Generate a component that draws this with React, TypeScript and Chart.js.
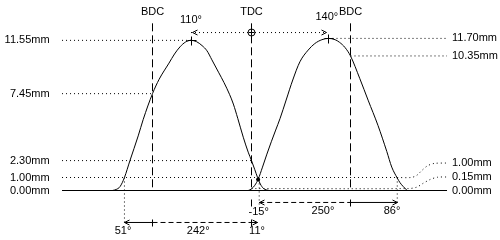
import React, { useEffect, useRef } from "react";
import { Chart, registerables } from "chart.js";

Chart.register(...registerables);

// ---- data (crank degrees relative to TDC, lift in mm) ----
const exhaustDeg = [-253, -246, -239, -231, -221, -206, -197, -180, -168, -150, -140, -130, -120, -110, -100, -90, -81, -72, -60, -50, -40, -33, -25, -15, -6, 0, 6, 11, 16, 22, 32];
const exhaustLift = [0, 0.08, 0.3, 1.0, 2.3, 4.2, 5.45, 7.45, 8.55, 9.8, 10.5, 11.05, 11.42, 11.55, 11.45, 11.15, 10.75, 10.05, 9.1, 8.3, 7.4, 6.65, 5.55, 4.1, 2.95, 2.3, 1.6, 1.0, 0.5, 0.15, 0];

const intakeDeg = [-6, 0, 6, 12, 20, 28, 36, 44, 52, 63, 75, 88, 103, 115, 128, 140, 152, 160, 170, 180, 197, 212, 230, 246, 255, 265, 270, 276, 283];
const intakeLift = [0, 0.12, 0.4, 0.85, 1.8, 2.8, 3.75, 4.65, 5.55, 6.96, 8.5, 9.9, 10.8, 11.3, 11.6, 11.7, 11.6, 11.4, 11.0, 10.35, 8.6, 6.95, 5.0, 3.0, 1.8, 0.96, 0.6, 0.3, 0];

const deadCentreNames = ["BDC", "TDC", "BDC"];
const deadCentreDeg = [-180, 0, 180];

const leftLevels = [11.55, 7.45, 2.3, 1.0, 0.0];
const leftLevelEndDeg = [-110, -180, 0, 265, 0];
const rightLevels = [11.7, 10.35, 1.0, 0.15, 0.0];

const exhaustPeakDeg = -110; // 110° BTDC
const intakePeakDeg = 140; // 140° ATDC
const exhaustMax = 11.55;
const intakeMax = 11.7;

const exhaustOpenDeg = -231; // 51° BBDC
const exhaustCloseDeg = 11; // 11° ATDC
const intakeOpenDeg = 14; // -15° BTDC
const intakeCloseDeg = 265; // 86° ABDC
const checkLift = 1.0;
const crossLift = 0.85;

const timingTexts = ["51°", "242°", "11°", "-15°", "250°", "86°"];
const peakTexts = ["110°", "140°"];

// ---- layout ----
const PX_PER_DEG = 0.55;
const TDC_PX = 251.5;
const PX_PER_MM = 13;
const ZERO_PX = 190.5;
const W = 500;
const H = 240;
const xMin = -TDC_PX / PX_PER_DEG;
const xMax = (W - TDC_PX) / PX_PER_DEG;
const yMax = ZERO_PX / PX_PER_MM;
const yMin = -(H - ZERO_PX) / PX_PER_MM;

const LEFT_START = -344.5;
const RIGHT_END = 355.5;
const ARROW_Y = 12.15;
const ROW_A = -0.92;
const ROW_B = -2.46;
const DC_TOP = 12.86;

const DOT = [1, 3];
const DASH_V = [8, 4];
const DASH_H = [5, 3];

type P = { x: number; y: number };
const pts = (xs: number[], ys: number[]): P[] => xs.map((x, i) => ({ x, y: ys[i] }));
const seg = (data: P[], dash: number[] = [], tension = 0, mono = false) => ({
  data,
  showLine: true,
  borderColor: "#000",
  borderWidth: 1,
  borderDash: dash,
  pointRadius: 0,
  pointHoverRadius: 0,
  tension,
  cubicInterpolationMode: mono ? "monotone" : "default",
  fill: false,
});

function buildDatasets() {
  const ds: any[] = [];
  ds.push(seg(pts(exhaustDeg, exhaustLift), [], 0.4, true));
  ds.push(seg(pts(intakeDeg, intakeLift), [], 0.4, true));
  ds.push(seg([{ x: LEFT_START, y: 0 }, { x: RIGHT_END, y: 0 }]));
  deadCentreDeg.forEach((d) => ds.push(seg([{ x: d, y: DC_TOP }, { x: d, y: 0 }], DASH_V)));
  leftLevels.forEach((v, i) => {
    if (v === 0) return;
    ds.push(seg([{ x: LEFT_START, y: v }, { x: leftLevelEndDeg[i], y: v }], DOT));
  });
  ds.push(seg([{ x: intakePeakDeg, y: rightLevels[0] }, { x: RIGHT_END, y: rightLevels[0] }], DOT));
  ds.push(seg([{ x: 180, y: rightLevels[1] }, { x: RIGHT_END, y: rightLevels[1] }], DOT));
  // leader for 1.00mm
  ds.push(
    seg(
      [
        { x: intakeCloseDeg, y: 1.0 },
        { x: 290, y: 1.0 },
        { x: 300, y: 1.15 },
        { x: 310, y: 1.55 },
        { x: 320, y: 1.9 },
        { x: 332, y: 2.08 },
        { x: RIGHT_END, y: 2.115 },
      ],
      DOT,
      0.3
    )
  );
  // leader for 0.15mm
  ds.push(
    seg(
      [
        { x: 0, y: 0.15 },
        { x: 285, y: 0.15 },
        { x: 300, y: 0.25 },
        { x: 312, y: 0.55 },
        { x: 325, y: 0.85 },
        { x: 338, y: 1.02 },
        { x: RIGHT_END, y: 1.04 },
      ],
      DOT,
      0.3
    )
  );
  // peak to peak arrow
  ds.push(seg([{ x: exhaustPeakDeg, y: ARROW_Y }, { x: intakePeakDeg - 3, y: ARROW_Y }], DOT));
  // vertical dotted drops
  ds.push(seg([{ x: exhaustOpenDeg, y: checkLift }, { x: exhaustOpenDeg, y: ROW_B }], DOT));
  ds.push(seg([{ x: intakeOpenDeg, y: crossLift }, { x: intakeOpenDeg, y: -1.1 }], DOT));
  ds.push(seg([{ x: intakeCloseDeg, y: checkLift }, { x: intakeCloseDeg, y: -1.1 }], DOT));
  // row A (intake)
  ds.push(seg([{ x: intakeOpenDeg, y: ROW_A }, { x: 180, y: ROW_A }], DASH_H));
  ds.push(seg([{ x: 180, y: ROW_A }, { x: intakeCloseDeg, y: ROW_A }]));
  // row B (exhaust)
  ds.push(seg([{ x: exhaustOpenDeg, y: ROW_B }, { x: -180, y: ROW_B }]));
  ds.push(seg([{ x: -180, y: ROW_B }, { x: 0, y: ROW_B }], DASH_H));
  ds.push(seg([{ x: 0, y: ROW_B }, { x: exhaustCloseDeg, y: ROW_B }]));
  return ds;
}

type Label = { t: string; x: number; y: number; a: CanvasTextAlign };
function buildLabels(): Label[] {
  const L: Label[] = [];
  deadCentreNames.forEach((n, i) => L.push({ t: n, x: deadCentreDeg[i], y: 13.73, a: "center" }));
  L.push({ t: peakTexts[0], x: exhaustPeakDeg, y: 13.12, a: "center" });
  L.push({ t: peakTexts[1], x: 137, y: 13.35, a: "center" });
  leftLevels.forEach((v) => L.push({ t: v.toFixed(2) + "mm", x: -367, y: v, a: "right" }));
  const rightY = [rightLevels[0], rightLevels[1], 2.115, 1.04, 0];
  rightLevels.forEach((v, i) => L.push({ t: v.toFixed(2) + "mm", x: 364.5, y: rightY[i], a: "left" }));
  L.push({ t: timingTexts[0], x: -233.6, y: -3.08, a: "center" });
  L.push({ t: timingTexts[1], x: -97, y: -3.08, a: "center" });
  L.push({ t: timingTexts[2], x: 10, y: -3.1, a: "center" });
  L.push({ t: timingTexts[3], x: 13, y: -1.65, a: "center" });
  L.push({ t: timingTexts[4], x: 130, y: -1.6, a: "center" });
  L.push({ t: timingTexts[5], x: 255.5, y: -1.6, a: "center" });
  return L;
}

const overlay = {
  id: "overlay",
  afterDatasetsDraw(chart: any) {
    const ctx: CanvasRenderingContext2D = chart.ctx;
    const xs = chart.scales.x;
    const ys = chart.scales.y;
    const X = (d: number) => Math.round(xs.getPixelForValue(d) - 0.5) + 0.5;
    const Y = (m: number) => Math.round(ys.getPixelForValue(m) - 0.5) + 0.5;
    ctx.save();
    ctx.strokeStyle = "#000";
    ctx.fillStyle = "#000";
    ctx.lineWidth = 1;
    ctx.setLineDash([]);
    const line = (x1: number, y1: number, x2: number, y2: number) => {
      ctx.beginPath();
      ctx.moveTo(x1, y1);
      ctx.lineTo(x2, y2);
      ctx.stroke();
    };
    const arrow = (d: number, m: number, dir: number) => {
      const x = X(d);
      const y = Y(m);
      line(x, y, x - dir * 5, y - 2.5);
      line(x, y, x - dir * 5, y + 2.5);
    };
    const plus = (d: number, m: number, s: number) => {
      const x = X(d);
      const y = Y(m);
      line(x - s, y, x + s + 1, y);
      line(x, y - s, x, y + s + 1);
    };
    const tick = (d: number, m: number) => {
      const x = X(d);
      const y = Y(m);
      line(x, y - 3, x, y + 4);
    };
    plus(exhaustPeakDeg, exhaustMax, 4);
    plus(intakePeakDeg, intakeMax, 4);
    arrow(exhaustPeakDeg + 2, ARROW_Y, -1);
    arrow(intakePeakDeg - 3, ARROW_Y, 1);
    {
      const x = X(0);
      const y = Y(ARROW_Y);
      ctx.beginPath();
      ctx.arc(x, y, 3.5, 0, Math.PI * 2);
      ctx.stroke();
      line(x - 3, y, x + 3, y);
      line(x, y - 3, x, y + 3);
    }
    {
      ctx.beginPath();
      ctx.arc(xs.getPixelForValue(12), ys.getPixelForValue(crossLift), 2, 0, Math.PI * 2);
      ctx.fill();
    }
    tick(0, ROW_A);
    tick(180, ROW_A);
    arrow(intakeOpenDeg + 1, ROW_A, -1);
    arrow(intakeCloseDeg, ROW_A, 1);
    tick(-180, ROW_B);
    tick(0, ROW_B);
    arrow(exhaustOpenDeg, ROW_B, -1);
    arrow(exhaustCloseDeg, ROW_B, 1);
    ctx.font = "11px 'Liberation Sans', Arial, sans-serif";
    ctx.textBaseline = "middle";
    for (const l of buildLabels()) {
      ctx.textAlign = l.a;
      ctx.fillText(l.t, xs.getPixelForValue(l.x), ys.getPixelForValue(l.y));
    }
    ctx.restore();
  },
};

export default function App() {
  const ref = useRef<HTMLCanvasElement>(null);
  useEffect(() => {
    if (!ref.current) return;
    const chart = new Chart(ref.current, {
      type: "scatter",
      data: { datasets: buildDatasets() },
      options: {
        responsive: false,
        animation: false,
        devicePixelRatio: 1,
        events: [],
        layout: { padding: 0 },
        plugins: { legend: { display: false }, tooltip: { enabled: false } },
        scales: {
          x: { type: "linear", display: false, min: xMin, max: xMax },
          y: { type: "linear", display: false, min: yMin, max: yMax },
        },
      },
      plugins: [overlay],
    });
    return () => chart.destroy();
  }, []);
  return (
    <div style={{ position: "absolute", left: 0, top: 0, width: W, height: H, background: "#fff" }}>
      <canvas ref={ref} width={W} height={H} style={{ display: "block" }} />
    </div>
  );
}
